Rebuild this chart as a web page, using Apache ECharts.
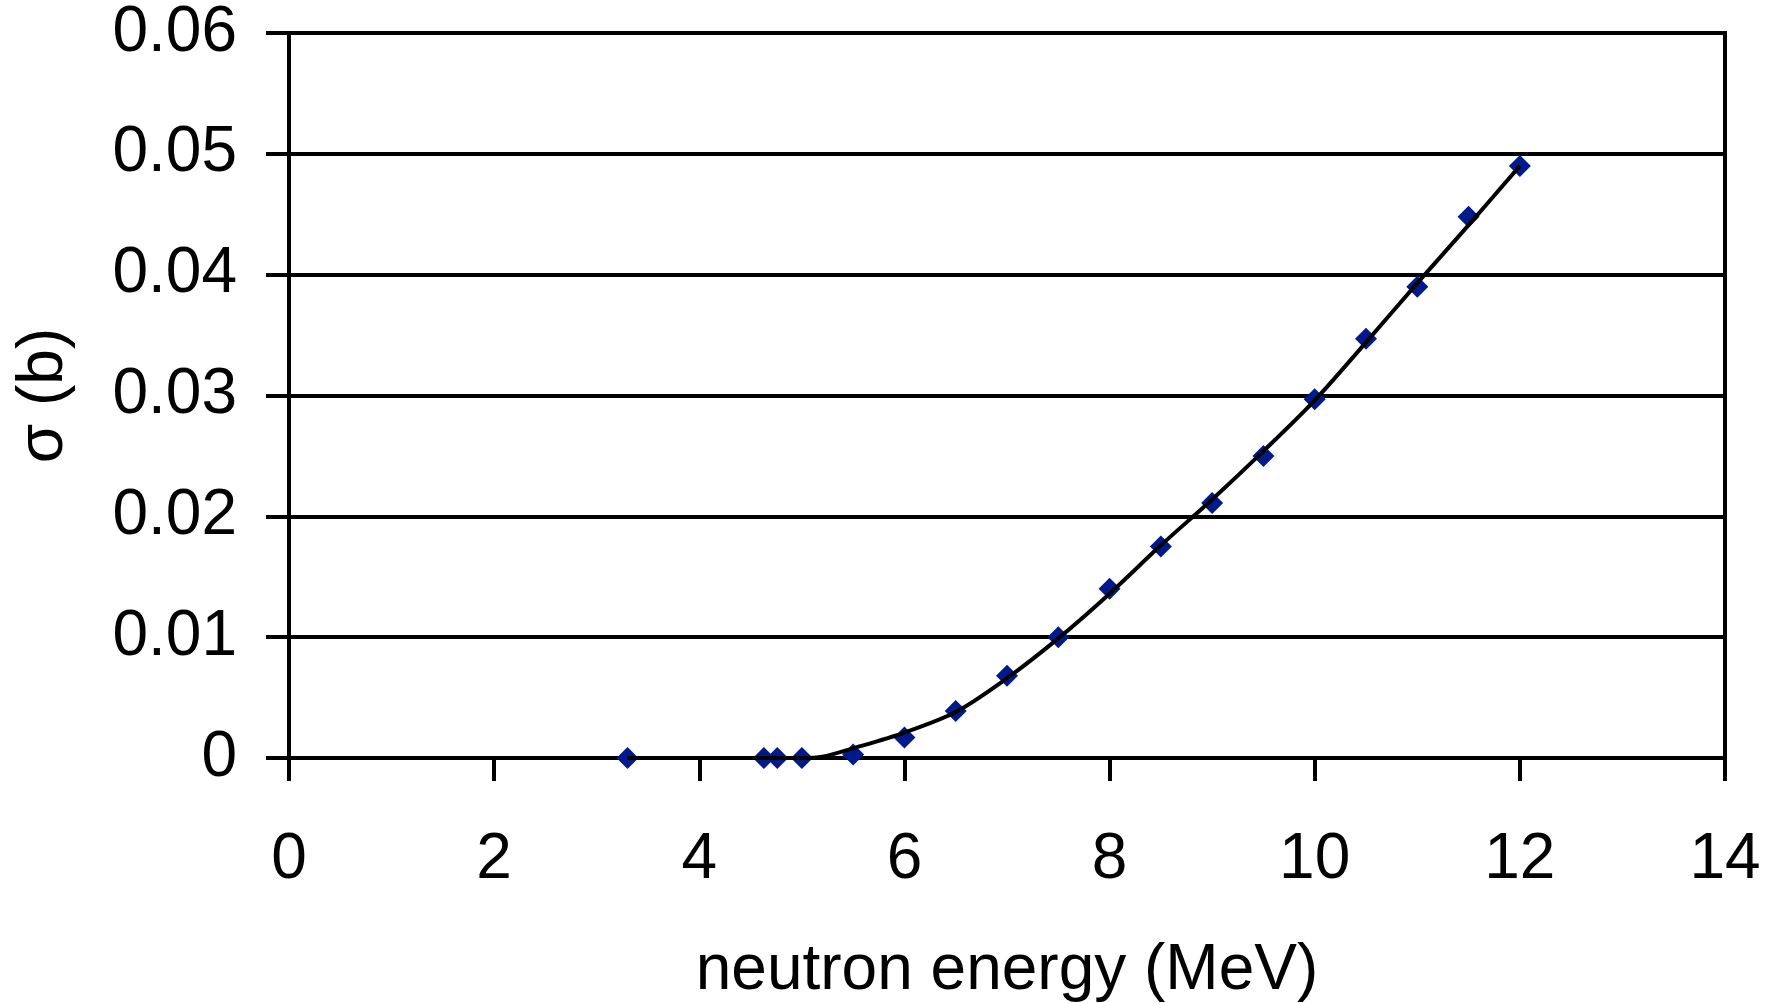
<!DOCTYPE html>
<html>
<head>
<meta charset="utf-8">
<script src="https://cdn.jsdelivr.net/npm/echarts@6/dist/echarts.min.js"></script>
<style>
  html, body { margin: 0; padding: 0; background: #fff; }
  #main { width: 1779px; height: 1003px; }
</style>
</head>
<body>
<div id="main"></div>
<script>
// measured points (diamonds)
var energy = [3.3, 4.63, 4.76, 5.0, 5.5, 6.0, 6.5, 7.0, 7.5, 8.0, 8.5, 9.0, 9.5, 10.0, 10.5, 11.0, 11.5, 12.0];
var sigma = [0, 0, 0, 0, 0.0003, 0.0017, 0.0039, 0.0068, 0.0100, 0.0140, 0.0175, 0.0211, 0.0250, 0.0297, 0.0347, 0.0390, 0.0448, 0.0490];

// fitted curve
var fitX = [3.3, 5.0, 5.2, 5.5, 6.0, 6.5, 7.0, 7.5, 8.0, 8.5, 9.0, 9.5, 10.0, 10.5, 11.0, 11.5, 12.0];
var fitY = [0, 0, 0.0001, 0.0008, 0.0021, 0.0038, 0.0066, 0.0099, 0.0136, 0.0176, 0.0214, 0.0254, 0.0296, 0.0344, 0.0393, 0.0441, 0.0490];

var font = "'Liberation Sans Narrow', 'Arial Narrow', 'Liberation Sans', sans-serif";

var chart = echarts.init(document.getElementById('main'));
var option = {
    animation: false,
    grid: {
        left: 289, right: 54, top: 33, bottom: 245,
        outerBoundsMode: 'none',
        containLabel: false,
        show: true,
        borderColor: '#000',
        borderWidth: 4
    },
    xAxis: {
        type: 'value',
        min: 0, max: 14, interval: 2,
        name: 'neutron energy (MeV)',
        nameLocation: 'middle',
        nameGap: 181,
        nameTextStyle: { fontFamily: font, fontSize: 64, color: '#000' },
        axisLine: { lineStyle: { color: '#000', width: 4 } },
        axisTick: { length: 23, lineStyle: { color: '#000', width: 4 } },
        axisLabel: { fontFamily: font, fontSize: 64, color: '#000', margin: 70 },
        splitLine: { show: false }
    },
    yAxis: {
        type: 'value',
        min: 0, max: 0.06, interval: 0.01,
        name: 'σ (b)',
        nameLocation: 'middle',
        nameGap: 213,
        nameRotate: 90,
        nameTextStyle: { fontFamily: font, fontSize: 64, color: '#000' },
        axisLine: { lineStyle: { color: '#000', width: 4 } },
        axisTick: { length: 23, lineStyle: { color: '#000', width: 4 } },
        axisLabel: { fontFamily: font, fontSize: 64, color: '#000', margin: 52 },
        splitLine: { lineStyle: { color: '#000', width: 4 } }
    },
    series: [{
        type: 'scatter',
        data: energy.map(function (e, i) { return [e, sigma[i]]; }),
        symbol: 'diamond',
        symbolSize: 22,
        itemStyle: { color: '#001a8c', opacity: 1 },
        z: 2
    }, {
        type: 'line',
        data: fitX.map(function (e, i) { return [e, fitY[i]]; }),
        smooth: 0.3,
        showSymbol: false,
        lineStyle: { color: '#000', width: 4 },
        z: 3
    }]
};
chart.setOption(option);
</script>
</body>
</html>
